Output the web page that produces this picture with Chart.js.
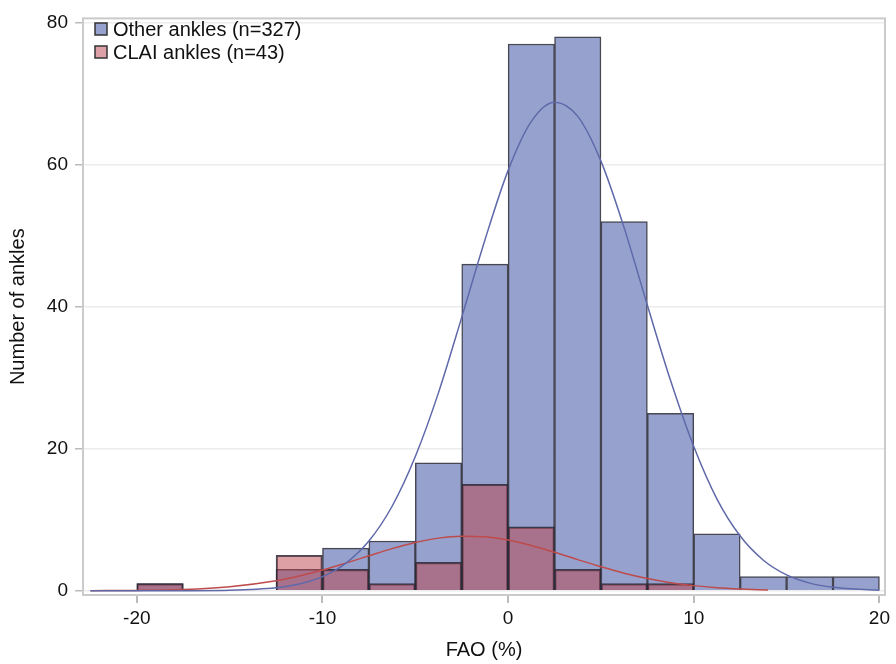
<!DOCTYPE html>
<html>
<head>
<meta charset="utf-8">
<script src="https://cdn.jsdelivr.net/npm/chart.js@4"></script>
<style>
  body { margin: 0; background: #fff; }
  #wrap { width: 896px; height: 664px; }
</style>
</head>
<body>
<div id="wrap"><canvas id="plots" width="896" height="664"></canvas></div>
<script>
// bin centres (width 2.5) and counts
const binCentres = [-21.25, -18.75, -16.25, -13.75, -11.25, -8.75, -6.25, -3.75, -1.25, 1.25, 3.75, 6.25, 8.75, 11.25, 13.75, 16.25, 18.75]
const otherCounts = [0, 1, 0, 0, 3, 6, 7, 18, 46, 77, 78, 52, 25, 8, 2, 2, 2]
const claiCounts  = [0, 1, 0, 0, 5, 3, 1, 4, 15, 9, 3, 1, 1, 0, 0, 0, 0]

// fitted curves
const otherCurveX = [-22.5, -20, -17.5, -15, -12.5, -11.25, -10, -8.75, -7.5, -6.25, -5, -3.75, -2.5, -1.25, 0, 1.25, 2.5, 3.75, 5, 6.25, 7.5, 8.75, 10, 11.25, 12.5, 13.75, 15, 16.25, 17.5, 20]
const otherCurveY = [0, 0, 0.01, 0.07, 0.42, 0.94, 1.98, 3.86, 7.0, 11.9, 18.9, 27.9, 38.5, 49.4, 59.2, 66.1, 68.8, 66.8, 60.5, 51.1, 40.2, 29.6, 20.3, 12.9, 7.7, 4.3, 2.23, 1.07, 0.48, 0.08]
const claiCurveX = [-22.5, -20, -17.5, -15, -12.5, -11.25, -10, -8.75, -7.5, -6.25, -5, -3.75, -2.5, -1.25, 0, 1.25, 2.5, 3.75, 5, 6.25, 7.5, 8.75, 10, 11.25, 12.5, 14]
const claiCurveY = [0.01, 0.05, 0.18, 0.57, 1.42, 2.09, 2.92, 3.89, 4.92, 5.93, 6.79, 7.41, 7.69, 7.59, 7.13, 6.37, 5.42, 4.38, 3.37, 2.47, 1.72, 1.14, 0.72, 0.43, 0.25, 0.1]

const xTicks = [-20, -10, 0, 10, 20]
const yTicks = [0, 20, 40, 60, 80]
const legendLabels = ['Other ankles (n=327)', 'CLAI ankles (n=43)']

const blueFill = 'rgb(150,162,205)'
const redFill = 'rgba(185,65,75,0.5)'
const barEdge = 'rgba(40,40,55,0.85)'
const fontFam = '"Liberation Sans", Arial, sans-serif'

function pts(xs, ys) {
  return xs.map((x, i) => ({ x: x, y: ys[i] }))
}

// frame around the plot + legend inside top-left
const framePlugin = {
  id: 'frame',
  afterDatasetsDraw(chart) {
    const ctx = chart.ctx
    const a = chart.chartArea
    ctx.save()
    ctx.strokeStyle = '#cbcbcb'
    ctx.lineWidth = 2
    ctx.strokeRect(a.left, a.top, a.right - a.left, a.bottom - a.top)

    const fills = [blueFill, 'rgb(221,160,166)']
    ctx.font = '20px ' + fontFam
    ctx.textBaseline = 'middle'
    legendLabels.forEach((txt, i) => {
      const cy = 29 + i * 23
      ctx.fillStyle = fills[i]
      ctx.fillRect(95, cy - 6, 12, 12)
      ctx.strokeStyle = '#333'
      ctx.lineWidth = 1.5
      ctx.strokeRect(95, cy - 6, 12, 12)
      ctx.fillStyle = '#111'
      ctx.fillText(txt, 113, cy + 1)
    })
    ctx.restore()
  }
}

const chart = new Chart(document.getElementById('plots'), {
  type: 'bar',
  data: {
    datasets: [
      {
        type: 'line',
        data: pts(otherCurveX, otherCurveY),
        borderColor: 'rgb(95,105,170)',
        borderWidth: 1.5,
        pointRadius: 0,
        cubicInterpolationMode: 'monotone',
        order: 0
      },
      {
        type: 'line',
        data: pts(claiCurveX, claiCurveY),
        borderColor: 'rgb(190,75,75)',
        borderWidth: 1.5,
        pointRadius: 0,
        cubicInterpolationMode: 'monotone',
        order: 0
      },
      {
        data: pts(binCentres, claiCounts),
        backgroundColor: redFill,
        borderColor: barEdge,
        borderWidth: 1.5,
        grouped: false,
        barPercentage: 1,
        categoryPercentage: 1,
        order: 1
      },
      {
        data: pts(binCentres, otherCounts),
        backgroundColor: blueFill,
        borderColor: barEdge,
        borderWidth: 1.5,
        grouped: false,
        barPercentage: 1,
        categoryPercentage: 1,
        order: 2
      }
    ]
  },
  options: {
    responsive: false,
    animation: false,
    layout: { padding: { left: 0, right: 11, top: 12, bottom: 0 } },
    plugins: { legend: { display: false }, tooltip: { enabled: false } },
    scales: {
      x: {
        type: 'linear',
        offset: false,
        min: -22.9,
        max: 20.3,
        afterBuildTicks: (s) => { s.ticks = xTicks.map(v => ({ value: v })) },
        afterFit: (s) => { s.height = 69 },
        border: { display: false },
        grid: { offset: false, drawOnChartArea: false, drawTicks: true, tickLength: 8, tickColor: '#bbb', lineWidth: 2 },
        ticks: { color: '#111', font: { family: fontFam, size: 19 }, padding: 4, maxRotation: 0 },
        title: { display: true, text: 'FAO (%)', color: '#111', font: { family: fontFam, size: 20 }, padding: { top: 0, bottom: 2 } }
      },
      y: {
        min: -0.6,
        max: 80.6,
        afterBuildTicks: (s) => { s.ticks = yTicks.map(v => ({ value: v })) },
        afterFit: (s) => { s.width = 83 },
        border: { display: false },
        grid: { color: '#ececec', lineWidth: 1.5, drawTicks: true, tickLength: 8, tickColor: '#bbb' },
        ticks: { color: '#111', font: { family: fontFam, size: 19 }, padding: 7 },
        title: { display: true, text: 'Number of ankles', color: '#111', font: { family: fontFam, size: 20 }, padding: { top: 6, bottom: 0 } }
      }
    }
  },
  plugins: [framePlugin]
})
</script>
</body>
</html>
